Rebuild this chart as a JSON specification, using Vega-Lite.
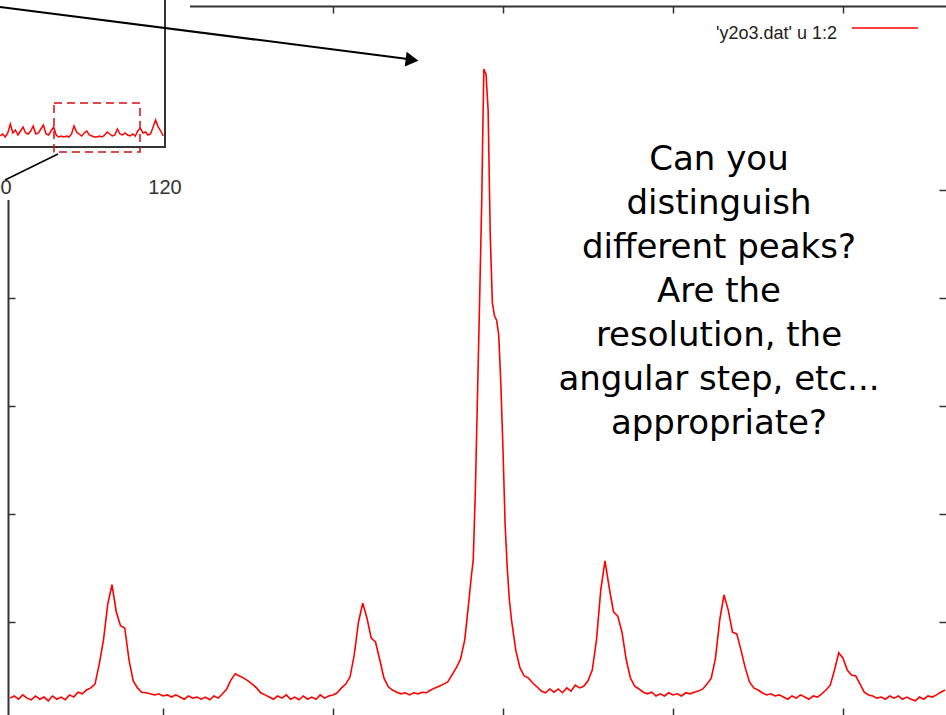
{
  "$schema": "https://vega.github.io/schema/vega-lite/v6.json",
  "width": 938,
  "height": 709,
  "autosize": {"type": "none"},
  "padding": {"left": 8, "top": 6, "right": 0, "bottom": 0},
  "background": "white",
  "config": {"view": {"stroke": null}},
  "datasets": {
    "scan": [
      {"x":106.20,"y":59},{"x":106.25,"y":63},{"x":106.30,"y":57},{"x":106.35,"y":65},{"x":106.40,"y":59},
      {"x":106.45,"y":56},{"x":106.50,"y":63},{"x":106.55,"y":57},{"x":106.60,"y":61},{"x":106.65,"y":54},
      {"x":106.70,"y":63},{"x":106.75,"y":57},{"x":106.80,"y":61},{"x":106.85,"y":56},{"x":106.90,"y":65},
      {"x":106.95,"y":61},{"x":107.00,"y":70},{"x":107.05,"y":67},{"x":107.10,"y":74},{"x":107.15,"y":78},
      {"x":107.20,"y":85},{"x":107.25,"y":122},{"x":107.30,"y":167},{"x":107.35,"y":233},{"x":107.40,"y":269},
      {"x":107.45,"y":219},{"x":107.50,"y":193},{"x":107.55,"y":189},{"x":107.60,"y":130},{"x":107.65,"y":91},
      {"x":107.70,"y":78},{"x":107.75,"y":70},{"x":107.80,"y":69},{"x":107.85,"y":67},{"x":107.90,"y":65},
      {"x":107.95,"y":67},{"x":108.00,"y":63},{"x":108.05,"y":65},{"x":108.10,"y":61},{"x":108.15,"y":65},
      {"x":108.20,"y":61},{"x":108.25,"y":57},{"x":108.30,"y":63},{"x":108.35,"y":59},{"x":108.40,"y":61},
      {"x":108.45,"y":57},{"x":108.50,"y":61},{"x":108.55,"y":56},{"x":108.60,"y":63},{"x":108.65,"y":59},
      {"x":108.70,"y":67},{"x":108.75,"y":76},{"x":108.80,"y":93},{"x":108.85,"y":104},{"x":108.90,"y":100},
      {"x":108.95,"y":96},{"x":109.00,"y":91},{"x":109.05,"y":85},{"x":109.10,"y":78},{"x":109.15,"y":69},
      {"x":109.20,"y":65},{"x":109.25,"y":61},{"x":109.30,"y":57},{"x":109.35,"y":63},{"x":109.40,"y":59},
      {"x":109.45,"y":65},{"x":109.50,"y":57},{"x":109.55,"y":61},{"x":109.60,"y":56},{"x":109.65,"y":63},
      {"x":109.70,"y":57},{"x":109.75,"y":61},{"x":109.80,"y":57},{"x":109.85,"y":65},{"x":109.90,"y":59},
      {"x":109.95,"y":63},{"x":110.00,"y":65},{"x":110.05,"y":69},{"x":110.10,"y":78},{"x":110.15,"y":85},
      {"x":110.20,"y":98},{"x":110.25,"y":139},{"x":110.30,"y":200},{"x":110.35,"y":235},{"x":110.40,"y":207},
      {"x":110.45,"y":170},{"x":110.50,"y":163},{"x":110.55,"y":130},{"x":110.60,"y":96},{"x":110.65,"y":80},
      {"x":110.70,"y":74},{"x":110.75,"y":70},{"x":110.80,"y":67},{"x":110.85,"y":69},{"x":110.90,"y":65},
      {"x":110.95,"y":69},{"x":111.00,"y":67},{"x":111.05,"y":70},{"x":111.10,"y":69},{"x":111.15,"y":74},
      {"x":111.20,"y":78},{"x":111.25,"y":81},{"x":111.30,"y":85},{"x":111.35,"y":89},{"x":111.40,"y":102},
      {"x":111.45,"y":115},{"x":111.50,"y":131},{"x":111.55,"y":167},{"x":111.60,"y":241},{"x":111.625,"y":281},
      {"x":111.65,"y":315},{"x":111.675,"y":444},{"x":111.70,"y":620},{"x":111.725,"y":796},{"x":111.75,"y":981},
      {"x":111.7625,"y":1111},{"x":111.775,"y":1224},{"x":111.7875,"y":1219},{"x":111.80,"y":1215},{"x":111.825,"y":1148},
      {"x":111.85,"y":917},{"x":111.875,"y":791},{"x":111.90,"y":767},{"x":111.925,"y":759},{"x":111.95,"y":731},
      {"x":111.975,"y":639},{"x":112.00,"y":519},{"x":112.025,"y":380},{"x":112.05,"y":300},{"x":112.075,"y":241},
      {"x":112.10,"y":204},{"x":112.15,"y":148},{"x":112.20,"y":115},{"x":112.25,"y":100},{"x":112.30,"y":96},
      {"x":112.35,"y":87},{"x":112.40,"y":80},{"x":112.45,"y":72},{"x":112.50,"y":69},{"x":112.55,"y":76},
      {"x":112.60,"y":70},{"x":112.65,"y":76},{"x":112.70,"y":69},{"x":112.75,"y":78},{"x":112.80,"y":72},
      {"x":112.85,"y":83},{"x":112.90,"y":78},{"x":112.95,"y":81},{"x":113.00,"y":91},{"x":113.05,"y":111},
      {"x":113.10,"y":167},{"x":113.15,"y":259},{"x":113.20,"y":313},{"x":113.25,"y":263},{"x":113.30,"y":219},
      {"x":113.35,"y":211},{"x":113.40,"y":181},{"x":113.45,"y":130},{"x":113.50,"y":96},{"x":113.55,"y":81},
      {"x":113.60,"y":76},{"x":113.65,"y":70},{"x":113.70,"y":67},{"x":113.75,"y":70},{"x":113.80,"y":63},
      {"x":113.85,"y":67},{"x":113.90,"y":63},{"x":113.95,"y":69},{"x":114.00,"y":65},{"x":114.05,"y":67},
      {"x":114.10,"y":63},{"x":114.15,"y":69},{"x":114.20,"y":67},{"x":114.25,"y":70},{"x":114.30,"y":72},
      {"x":114.35,"y":76},{"x":114.40,"y":85},{"x":114.45,"y":96},{"x":114.50,"y":133},{"x":114.55,"y":204},
      {"x":114.60,"y":250},{"x":114.65,"y":222},{"x":114.70,"y":181},{"x":114.75,"y":178},{"x":114.80,"y":148},
      {"x":114.85,"y":115},{"x":114.90,"y":89},{"x":114.95,"y":78},{"x":115.00,"y":74},{"x":115.05,"y":69},
      {"x":115.10,"y":65},{"x":115.15,"y":67},{"x":115.20,"y":63},{"x":115.25,"y":65},{"x":115.30,"y":61},
      {"x":115.35,"y":57},{"x":115.40,"y":63},{"x":115.45,"y":59},{"x":115.50,"y":65},{"x":115.55,"y":61},
      {"x":115.60,"y":57},{"x":115.65,"y":63},{"x":115.70,"y":61},{"x":115.75,"y":67},{"x":115.80,"y":74},
      {"x":115.85,"y":83},{"x":115.90,"y":111},{"x":115.95,"y":143},{"x":116.00,"y":133},{"x":116.05,"y":111},
      {"x":116.10,"y":102},{"x":116.15,"y":100},{"x":116.20,"y":85},{"x":116.25,"y":70},{"x":116.30,"y":65},
      {"x":116.35,"y":63},{"x":116.40,"y":59},{"x":116.45,"y":61},{"x":116.50,"y":57},{"x":116.55,"y":63},
      {"x":116.60,"y":59},{"x":116.65,"y":63},{"x":116.70,"y":57},{"x":116.75,"y":61},{"x":116.80,"y":57},
      {"x":116.85,"y":54},{"x":116.90,"y":61},{"x":116.95,"y":57},{"x":117.00,"y":63},{"x":117.05,"y":61},
      {"x":117.10,"y":65},{"x":117.15,"y":70},{"x":117.20,"y":74}
    ],
    "overview": [
      {"x":100.6,"y":1100},{"x":100.9,"y":1300},{"x":101.2,"y":1000},{"x":101.5,"y":1400},{"x":101.8,"y":2300},
      {"x":102.1,"y":1400},{"x":102.4,"y":1700},{"x":102.7,"y":1200},{"x":103.0,"y":1600},{"x":103.3,"y":2000},
      {"x":103.6,"y":1400},{"x":103.9,"y":1300},{"x":104.2,"y":1600},{"x":104.5,"y":2100},{"x":104.8,"y":1300},
      {"x":105.1,"y":1400},{"x":105.4,"y":1800},{"x":105.7,"y":2200},{"x":106.0,"y":1300},{"x":106.3,"y":1200},
      {"x":106.6,"y":1600},{"x":106.9,"y":2000},{"x":107.2,"y":1200},{"x":107.5,"y":1000},{"x":107.8,"y":1100},
      {"x":108.1,"y":1000},{"x":108.4,"y":1100},{"x":108.7,"y":1000},{"x":109.0,"y":1300},{"x":109.3,"y":2100},
      {"x":109.6,"y":1500},{"x":109.9,"y":1300},{"x":110.2,"y":1100},{"x":110.5,"y":1400},{"x":110.8,"y":1600},
      {"x":111.1,"y":1200},{"x":111.4,"y":1100},{"x":111.7,"y":1000},{"x":112.0,"y":1000},{"x":112.3,"y":1100},
      {"x":112.6,"y":1000},{"x":112.9,"y":1200},{"x":113.2,"y":1500},{"x":113.5,"y":1300},{"x":113.8,"y":1100},
      {"x":114.1,"y":1200},{"x":114.4,"y":1800},{"x":114.7,"y":1300},{"x":115.0,"y":1200},{"x":115.3,"y":1400},
      {"x":115.6,"y":1200},{"x":115.9,"y":1100},{"x":116.2,"y":1300},{"x":116.5,"y":1100},{"x":116.8,"y":1600},
      {"x":117.1,"y":1900},{"x":117.4,"y":1400},{"x":117.7,"y":1500},{"x":118.0,"y":1200},{"x":118.3,"y":1300},
      {"x":118.6,"y":2000},{"x":118.9,"y":2700},{"x":119.2,"y":2000},{"x":119.5,"y":1600},{"x":119.8,"y":1100}
    ],
    "overviewTicks": [{"t": 100}, {"t": 120}],
    "one": [{}]
  },
  "layer": [
    {
      "resolve": {"axis": {"x": "independent", "y": "independent"}},
      "layer": [
        {
          "data": {"name": "scan"},
          "mark": {"type": "line", "color": "#ff0000", "strokeWidth": 1.6, "interpolate": "linear"},
          "encoding": {
            "x": {"field": "x", "type": "quantitative",
                  "scale": {"domain": [106.1765, 117.2118], "nice": false, "zero": false},
                  "axis": {"orient": "bottom", "title": null, "labels": false, "grid": false, "domain": false,
                           "values": [108, 110, 112, 114, 116], "tickSize": -7, "tickColor": "#333", "tickWidth": 1.5}},
            "y": {"field": "y", "type": "quantitative",
                  "scale": {"domain": [27.78, 1340.74], "nice": false, "zero": false},
                  "axis": {"orient": "left", "title": null, "labels": false, "grid": false,
                           "domain": true, "domainColor": "#333", "domainWidth": 2,
                           "values": [200, 400, 600, 800, 1000], "tickSize": -7, "tickColor": "#333", "tickWidth": 1.5}}
          }
        },
        {
          "data": {"name": "one"},
          "mark": {"type": "rule", "color": "#ff0000", "strokeWidth": 1.5},
          "encoding": {
            "x": {"datum": 116.106, "type": "quantitative",
                  "scale": {"domain": [106.1765, 117.2118], "nice": false, "zero": false},
                  "axis": {"orient": "top", "title": null, "labels": false, "grid": false,
                           "domain": true, "domainColor": "#333", "domainWidth": 2,
                           "values": [108, 110, 112, 114, 116], "tickSize": -7, "tickColor": "#333", "tickWidth": 1.5}},
            "x2": {"datum": 116.882},
            "y": {"datum": 1300, "type": "quantitative",
                  "scale": {"domain": [27.78, 1340.74], "nice": false, "zero": false},
                  "axis": {"orient": "right", "title": null, "labels": false, "grid": false, "domain": false,
                           "values": [200, 400, 600, 800, 1000], "tickSize": -7, "tickColor": "#333", "tickWidth": 1.5}}
          }
        },
        {
          "data": {"name": "one"},
          "mark": {"type": "text", "align": "right", "baseline": "alphabetic", "font": "Liberation Sans", "fontSize": 18, "color": "#222"},
          "encoding": {
            "x": {"datum": 115.929, "type": "quantitative", "axis": null},
            "y": {"datum": 1279.6, "type": "quantitative", "axis": null},
            "text": {"value": "'y2o3.dat' u 1:2"}
          }
        },
        {
          "data": {"name": "one"},
          "mark": {"type": "text", "align": "center", "baseline": "alphabetic", "font": "DejaVu Sans", "fontSize": 34, "lineHeight": 44, "color": "#000"},
          "encoding": {
            "x": {"datum": 114.541, "type": "quantitative", "axis": null},
            "y": {"datum": 1037, "type": "quantitative", "axis": null},
            "text": {"value": ["Can you", "distinguish", "different peaks?", "Are the", "resolution, the", "angular step, etc...", "appropriate?"]}
          }
        }
      ]
    },
    {
      "layer": [
        {
          "data": {"name": "one"},
          "mark": {"type": "rect", "fill": "white", "stroke": null},
          "encoding": {
            "x": {"datum": 90, "type": "quantitative", "axis": null,
                  "scale": {"domain": [101.52941, 211.88235], "nice": false, "zero": false}},
            "x2": {"datum": 122.94},
            "y": {"datum": -5300, "type": "quantitative", "axis": null,
                  "scale": {"domain": [-56800, 14100], "nice": false, "zero": false}},
            "y2": {"datum": 20000}
          }
        },
        {
          "data": {"name": "one"},
          "mark": {"type": "rect", "fillOpacity": 0, "stroke": "#333", "strokeWidth": 2},
          "encoding": {
            "x": {"datum": 90, "type": "quantitative", "axis": null},
            "x2": {"datum": 120},
            "y": {"datum": 0, "type": "quantitative", "axis": null},
            "y2": {"datum": 20000}
          }
        },
        {
          "data": {"name": "overview"},
          "mark": {"type": "line", "color": "#ff0000", "strokeWidth": 1.5},
          "encoding": {
            "x": {"field": "x", "type": "quantitative", "axis": null},
            "y": {"field": "y", "type": "quantitative", "axis": null}
          }
        },
        {
          "data": {"name": "one"},
          "mark": {"type": "rect", "fillOpacity": 0, "stroke": "#d01010", "strokeWidth": 1.5, "strokeDash": [8, 5]},
          "encoding": {
            "x": {"datum": 106.94, "type": "quantitative", "axis": null},
            "x2": {"datum": 117.06},
            "y": {"datum": -500, "type": "quantitative", "axis": null},
            "y2": {"datum": 4400}
          }
        },
        {
          "data": {"name": "one"},
          "mark": {"type": "rule", "color": "#000", "strokeWidth": 1.5},
          "encoding": {
            "x": {"datum": 107.41, "type": "quantitative", "axis": null},
            "y": {"datum": -700, "type": "quantitative", "axis": null},
            "x2": {"datum": 101.18},
            "y2": {"datum": -3300}
          }
        },
        {
          "data": {"name": "overviewTicks"},
          "mark": {"type": "text", "align": "center", "baseline": "middle", "font": "Liberation Sans", "fontSize": 20, "color": "#333"},
          "encoding": {
            "x": {"field": "t", "type": "quantitative", "axis": null},
            "y": {"datum": -4100, "type": "quantitative", "axis": null},
            "text": {"field": "t", "type": "quantitative"}
          }
        }
      ]
    },
    {
      "layer": [
        {
          "data": {"name": "one"},
          "mark": {"type": "rule", "color": "#000", "strokeWidth": 2},
          "encoding": {
            "x": {"datum": 106.082, "type": "quantitative", "axis": null,
                  "scale": {"domain": [106.1765, 117.2118], "nice": false, "zero": false}},
            "y": {"datum": 1339, "type": "quantitative", "axis": null,
                  "scale": {"domain": [27.78, 1340.74], "nice": false, "zero": false}},
            "x2": {"datum": 110.88},
            "y2": {"datum": 1242.6}
          }
        },
        {
          "data": {"name": "one"},
          "mark": {"type": "point", "shape": "triangle-right", "filled": true, "color": "#000", "opacity": 1, "size": 220, "angle": 7.3, "strokeWidth": 0},
          "encoding": {
            "x": {"datum": 110.93, "type": "quantitative", "axis": null},
            "y": {"datum": 1240.7, "type": "quantitative", "axis": null}
          }
        }
      ]
    }
  ],
  "resolve": {
    "scale": {"x": "independent", "y": "independent"},
    "axis": {"x": "independent", "y": "independent"}
  }
}
